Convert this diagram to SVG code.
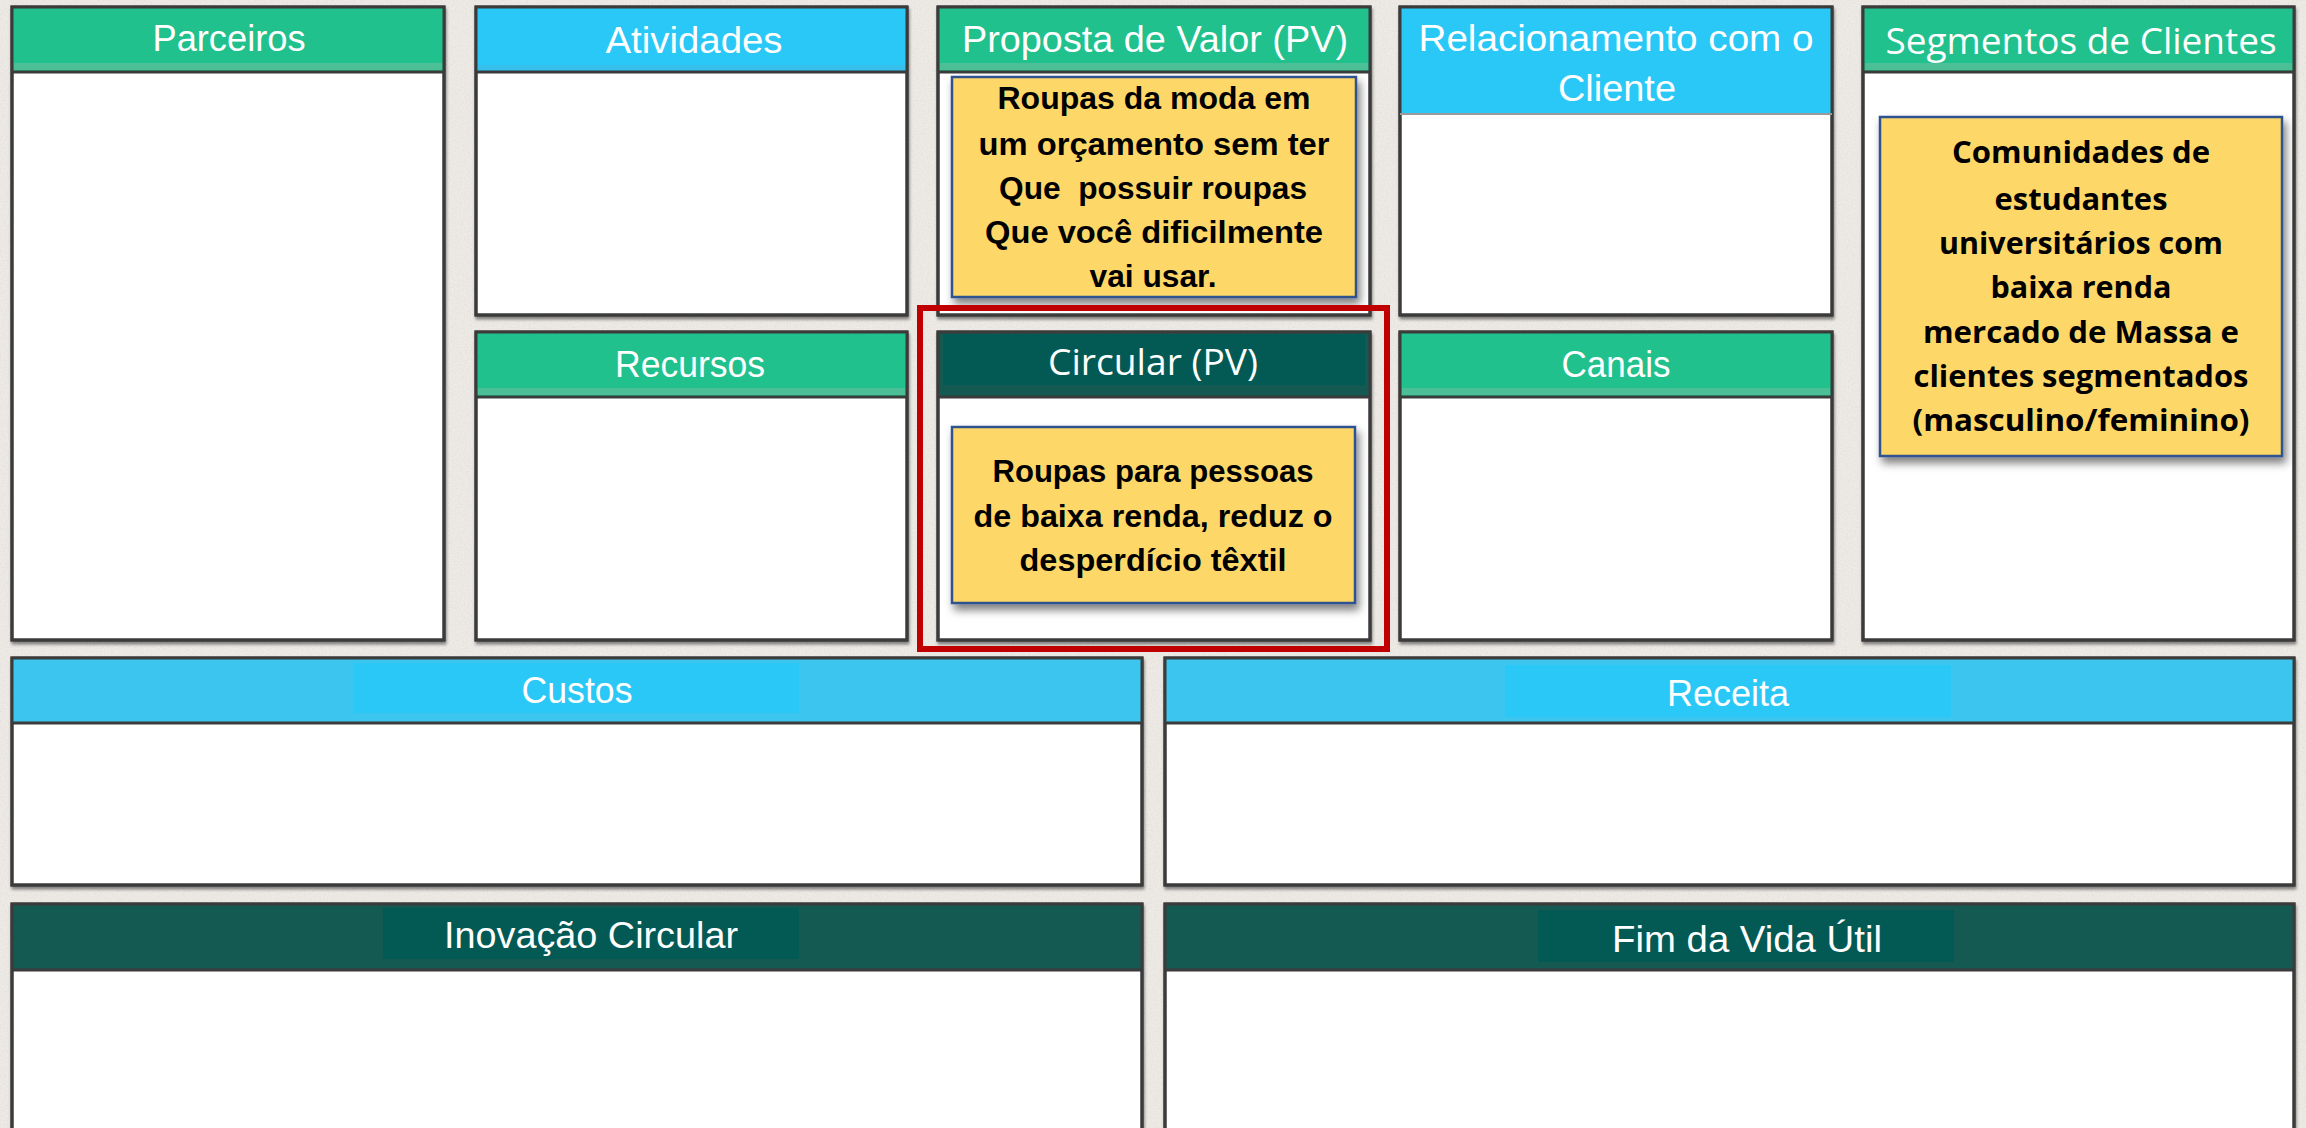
<svg xmlns="http://www.w3.org/2000/svg" width="2306" height="1128" viewBox="0 0 2306 1128">
<defs>
<filter id="paper" x="0" y="0" width="100%" height="100%">
<feTurbulence type="fractalNoise" baseFrequency="0.7" numOctaves="3" seed="4" result="n"/>
<feColorMatrix in="n" type="matrix" values="0 0 0 0 0.62 0 0 0 0 0.6 0 0 0 0 0.57 0.7 0 0 0 -0.25" result="spots"/>
<feComposite in="spots" in2="SourceGraphic" operator="over"/>
</filter>
<filter id="bs" x="-5%" y="-5%" width="110%" height="115%">
<feDropShadow dx="1" dy="3" stdDeviation="1.5" flood-color="#000" flood-opacity="0.45"/>
</filter>
<filter id="ns" x="-10%" y="-10%" width="125%" height="130%">
<feDropShadow dx="3" dy="6" stdDeviation="4" flood-color="#000" flood-opacity="0.5"/>
</filter>
</defs>
<style>
.box{fill:#fff;stroke:#3b3b3b;stroke-width:3;filter:url(#bs)}
.ol{fill:none;stroke:#3b3b3b;stroke-width:3}
.sep{stroke:#3b3b3b;stroke-width:3}
.g{fill:#21C18D}.gs{fill:#4DBF97}
.b{fill:#2AC8F6}.bs{fill:#35BFEA}.bo{fill:#3BC5EF}
.d{fill:#035A55}.do{fill:#155A52}
.h{font-family:"Liberation Sans",Arial,sans-serif;font-size:37px;fill:#fff;text-anchor:middle}
.ho{font-family:"Open Sans","Liberation Sans",sans-serif;font-size:36px;fill:#fff;text-anchor:middle}
.note{fill:#FDD868;stroke:#2F528F;stroke-width:2.5;filter:url(#ns)}
.nt{font-family:"Liberation Sans",Arial,sans-serif;font-weight:bold;font-size:31px;fill:#000;text-anchor:middle}
.nto{font-family:"Open Sans","Liberation Sans",sans-serif;font-weight:bold;font-size:31px;fill:#000;text-anchor:middle}
.red{fill:none;stroke:#C00000;stroke-width:6}
</style>
<rect x="0" y="0" width="2306" height="1128" fill="#EEEBE7" filter="url(#paper)"/>

<g id="parceiros">
<rect class="box" x="12" y="7" width="432" height="633"/>
<rect class="g" x="12" y="7" width="432" height="65"/>
<rect class="gs" x="14" y="63" width="428" height="7"/>
<rect class="ol" x="12" y="7" width="432" height="633"/>
<line class="sep" x1="12" y1="72" x2="444" y2="72"/>
<text class="h" x="229" y="51" textLength="153" lengthAdjust="spacingAndGlyphs">Parceiros</text>
</g>

<g id="atividades">
<rect class="box" x="476" y="7" width="431" height="308"/>
<rect class="b" x="476" y="7" width="431" height="65"/>
<rect class="bs" x="478" y="65" width="427" height="5"/>
<rect class="ol" x="476" y="7" width="431" height="308"/>
<line class="sep" x1="476" y1="72" x2="907" y2="72"/>
<text class="h" x="694" y="53" textLength="177" lengthAdjust="spacingAndGlyphs">Atividades</text>
</g>

<g id="recursos">
<rect class="box" x="476" y="332" width="431" height="308"/>
<rect class="g" x="476" y="332" width="431" height="65"/>
<rect class="gs" x="478" y="388" width="427" height="7"/>
<rect class="ol" x="476" y="332" width="431" height="308"/>
<line class="sep" x1="476" y1="397" x2="907" y2="397"/>
<text class="h" x="690" y="377" textLength="150" lengthAdjust="spacingAndGlyphs">Recursos</text>
</g>

<g id="proposta">
<rect class="box" x="938" y="7" width="432" height="308"/>
<rect class="g" x="938" y="7" width="432" height="65"/>
<rect class="gs" x="940" y="63" width="428" height="7"/>
<rect class="ol" x="938" y="7" width="432" height="308"/>
<line class="sep" x1="938" y1="72" x2="1370" y2="72"/>
<text class="h" x="1155" y="52" textLength="386" lengthAdjust="spacingAndGlyphs">Proposta de Valor (PV)</text>
<rect class="note" x="952" y="77" width="404" height="220"/>
<text class="nt" x="1154" y="109" textLength="313" lengthAdjust="spacingAndGlyphs">Roupas da moda em</text>
<text class="nt" x="1154" y="155" textLength="351" lengthAdjust="spacingAndGlyphs">um orçamento sem ter</text>
<text class="nt" x="1153" y="199" textLength="308" lengthAdjust="spacingAndGlyphs" xml:space="preserve">Que  possuir roupas</text>
<text class="nt" x="1154" y="243" textLength="338" lengthAdjust="spacingAndGlyphs">Que você dificilmente</text>
<text class="nt" x="1153" y="287" textLength="127" lengthAdjust="spacingAndGlyphs">vai usar.</text>
</g>

<g id="circular">
<rect class="box" x="938" y="332" width="432" height="308"/>
<rect class="do" x="938" y="332" width="432" height="65"/>
<rect class="d" x="943" y="334" width="422" height="51"/>
<rect class="ol" x="938" y="332" width="432" height="308"/>
<line class="sep" x1="938" y1="397" x2="1370" y2="397"/>
<text class="ho" x="1153" y="375" textLength="210" lengthAdjust="spacingAndGlyphs">Circular (PV)</text>
<rect class="note" x="952" y="427" width="403" height="176"/>
<text class="nt" x="1153" y="482" textLength="321" lengthAdjust="spacingAndGlyphs">Roupas para pessoas</text>
<text class="nt" x="1153" y="527" textLength="359" lengthAdjust="spacingAndGlyphs">de baixa renda, reduz o</text>
<text class="nt" x="1153" y="571" textLength="267" lengthAdjust="spacingAndGlyphs">desperdício têxtil</text>
</g>

<g id="relacionamento">
<rect class="box" x="1400" y="7" width="432" height="308"/>
<rect class="b" x="1400" y="7" width="432" height="107"/>
<rect class="ol" x="1400" y="7" width="432" height="308"/>
<line x1="1400" y1="114" x2="1832" y2="114" stroke="#9a9a9a" stroke-width="2"/>
<text class="h" x="1616" y="51" textLength="395" lengthAdjust="spacingAndGlyphs">Relacionamento com o</text>
<text class="h" x="1617" y="101" textLength="118" lengthAdjust="spacingAndGlyphs">Cliente</text>
</g>

<g id="canais">
<rect class="box" x="1400" y="332" width="432" height="308"/>
<rect class="g" x="1400" y="332" width="432" height="65"/>
<rect class="gs" x="1402" y="388" width="428" height="7"/>
<rect class="ol" x="1400" y="332" width="432" height="308"/>
<line class="sep" x1="1400" y1="397" x2="1832" y2="397"/>
<text class="h" x="1616" y="377" textLength="109" lengthAdjust="spacingAndGlyphs">Canais</text>
</g>

<g id="segmentos">
<rect class="box" x="1863" y="7" width="431" height="633"/>
<rect class="g" x="1863" y="7" width="431" height="65"/>
<rect class="gs" x="1865" y="63" width="427" height="7"/>
<rect class="ol" x="1863" y="7" width="431" height="633"/>
<line class="sep" x1="1863" y1="72" x2="2294" y2="72"/>
<text class="ho" x="2081" y="54" textLength="391" lengthAdjust="spacingAndGlyphs">Segmentos de Clientes</text>
<rect class="note" x="1880" y="117" width="402" height="339"/>
<text class="nto" x="2081" y="163" textLength="258" lengthAdjust="spacingAndGlyphs">Comunidades de</text>
<text class="nto" x="2081" y="210" textLength="173" lengthAdjust="spacingAndGlyphs">estudantes</text>
<text class="nto" x="2081" y="254" textLength="284" lengthAdjust="spacingAndGlyphs">universitários com</text>
<text class="nto" x="2081" y="298" textLength="181" lengthAdjust="spacingAndGlyphs">baixa renda</text>
<text class="nto" x="2081" y="343" textLength="316" lengthAdjust="spacingAndGlyphs">mercado de Massa e</text>
<text class="nto" x="2081" y="387" textLength="335" lengthAdjust="spacingAndGlyphs">clientes segmentados</text>
<text class="nto" x="2081" y="431" textLength="337" lengthAdjust="spacingAndGlyphs">(masculino/feminino)</text>
</g>

<g id="custos">
<rect class="box" x="12" y="658" width="1130" height="227"/>
<rect class="bo" x="12" y="658" width="1130" height="65"/>
<rect class="b" x="354" y="663" width="445" height="50"/>
<rect class="ol" x="12" y="658" width="1130" height="227"/>
<line class="sep" x1="12" y1="723" x2="1142" y2="723"/>
<text class="h" x="577" y="703" textLength="111" lengthAdjust="spacingAndGlyphs">Custos</text>
</g>

<g id="receita">
<rect class="box" x="1165" y="658" width="1129" height="227"/>
<rect class="bo" x="1165" y="658" width="1129" height="65"/>
<rect class="b" x="1505" y="665" width="446" height="52"/>
<rect class="ol" x="1165" y="658" width="1129" height="227"/>
<line class="sep" x1="1165" y1="723" x2="2294" y2="723"/>
<text class="h" x="1728" y="706" textLength="122" lengthAdjust="spacingAndGlyphs">Receita</text>
</g>

<g id="inovacao">
<rect class="box" x="12" y="904" width="1130" height="244"/>
<rect class="do" x="12" y="904" width="1130" height="66"/>
<rect class="d" x="383" y="908" width="416" height="51"/>
<rect class="ol" x="12" y="904" width="1130" height="244"/>
<line class="sep" x1="12" y1="970" x2="1142" y2="970"/>
<text class="h" x="591" y="948" textLength="294" lengthAdjust="spacingAndGlyphs">Inovação Circular</text>
</g>

<g id="fim">
<rect class="box" x="1165" y="904" width="1129" height="244"/>
<rect class="do" x="1165" y="904" width="1129" height="66"/>
<rect class="d" x="1538" y="910" width="416" height="52"/>
<rect class="ol" x="1165" y="904" width="1129" height="244"/>
<line class="sep" x1="1165" y1="970" x2="2294" y2="970"/>
<text class="h" x="1747" y="952" textLength="270" lengthAdjust="spacingAndGlyphs">Fim da Vida Útil</text>
</g>

<g id="destaque">
<rect class="red" x="920" y="308" width="467" height="341"/>
</g>

<g id="connectors"></g>
</svg>
